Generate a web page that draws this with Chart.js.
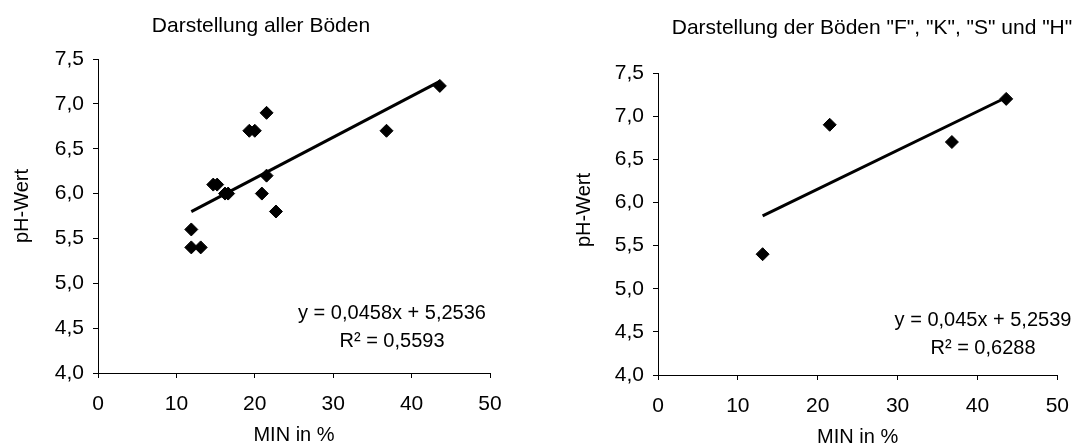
<!DOCTYPE html>
<html lang="de">
<head>
<meta charset="utf-8">
<title>pH-Wert und MIN</title>
<script src="https://cdn.jsdelivr.net/npm/chart.js@4.4.1/dist/chart.umd.min.js"></script>
<style>
  html, body { margin: 0; padding: 0; background: #fff; }
  #wrap { position: relative; width: 1083px; height: 444px; }
  canvas { position: absolute; top: 0; }
  #allChart { left: 0; }
  #fkshChart { left: 540px; }
</style>
</head>
<body>
<div id="wrap">
  <canvas id="allChart" width="540" height="444"></canvas>
  <canvas id="fkshChart" width="543" height="444"></canvas>
</div>
<script>
// MIN (%) und pH-Wert aller Böden
const minAll = [43.6, 36.8, 21.5, 19.3, 20.0, 21.5, 20.9, 22.7, 14.7, 15.2, 16.2, 16.6, 11.9, 11.9, 13.1];
const phAll  = [7.2, 6.7, 6.9, 6.7, 6.7, 6.2, 6.0, 5.8, 6.1, 6.1, 6.0, 6.0, 5.6, 5.4, 5.4];

// nur die Böden F, K, S und H
const minFKSH = [13.1, 21.5, 36.8, 43.6];
const phFKSH  = [5.4, 6.9, 6.7, 7.2];

// lineare Trendlinien: Steigung, Achsenabschnitt, Bestimmtheitsmaß
const trendAll  = [0.0458, 5.2536, 0.5593];
const trendFKSH = [0.045, 5.2539, 0.6288];

const xTicks = [0, 10, 20, 30, 40, 50];
const yTicks = [4.0, 4.5, 5.0, 5.5, 6.0, 6.5, 7.0, 7.5];

Chart.defaults.font.family = '"Liberation Sans", Arial, sans-serif';
Chart.defaults.font.size = 21;
Chart.defaults.color = '#000';

const deNum = v => String(v).replace('.', ',');

// Titel, Achsentitel und Gleichung der Trendlinie
const textPlugin = {
    id: 'texts',
    afterDraw(chart, args, o) {
        const ctx = chart.ctx;
        const area = chart.chartArea;
        ctx.save();
        ctx.fillStyle = '#000';
        ctx.textAlign = 'center';

        ctx.font = '21px "Liberation Sans", Arial, sans-serif';
        ctx.textBaseline = 'alphabetic';
        ctx.fillText(o.title, o.titleX, o.titleY);

        ctx.font = '20px "Liberation Sans", Arial, sans-serif';
        ctx.textBaseline = 'middle';
        ctx.fillText('MIN in %', (area.left + area.right) / 2, o.xTitleY);

        ctx.save();
        ctx.translate(o.yTitleX, o.yTitleY);
        ctx.rotate(-Math.PI / 2);
        ctx.fillText('pH-Wert', 0, 0);
        ctx.restore();

        const t = o.trend;
        ctx.fillText('y = ' + deNum(t[0]) + 'x + ' + deNum(t[1]), o.eqX, o.eqY);
        ctx.fillText('R² = ' + deNum(t[2]), o.eqX, o.eqY + 28);
        ctx.restore();
    }
};

function makeChart(id, xs, ys, trend, cfg) {
    const points = xs.map((x, i) => ({ x: x, y: ys[i] }));
    const x0 = Math.min(...xs);
    const x1 = Math.max(...xs);
    const line = [x0, x1].map(x => ({ x: x, y: trend[0] * x + trend[1] }));

    return new Chart(document.getElementById(id), {
        type: 'scatter',
        data: {
            datasets: [{
                data: points,
                pointStyle: 'rectRot',
                pointRadius: 6.5,
                backgroundColor: '#000',
                borderColor: '#000',
                borderWidth: 1
            }, {
                data: line,
                showLine: true,
                borderColor: '#000',
                borderWidth: 3,
                pointRadius: 0
            }]
        },
        options: {
            responsive: false,
            animation: false,
            layout: { padding: { top: cfg.top, right: cfg.right, left: 0, bottom: 0 } },
            plugins: {
                legend: { display: false },
                tooltip: { enabled: false },
                texts: cfg.texts
            },
            scales: {
                x: {
                    type: 'linear',
                    min: 0,
                    max: 50,
                    afterBuildTicks: s => { s.ticks = xTicks.map(v => ({ value: v })); },
                    afterFit: s => { s.height = cfg.xHeight; },
                    ticks: { autoSkip: false, padding: 14, maxRotation: 0 },
                    grid: { drawOnChartArea: false, tickLength: 5, color: '#000' },
                    border: { color: '#000', width: 1 }
                },
                y: {
                    min: 4,
                    max: 7.5,
                    afterBuildTicks: s => { s.ticks = yTicks.map(v => ({ value: v })); },
                    afterFit: s => { s.width = cfg.yWidth; },
                    ticks: {
                        autoSkip: false,
                        padding: 9,
                        callback: v => v.toFixed(1).replace('.', ',')
                    },
                    grid: { drawOnChartArea: false, tickLength: 5, color: '#000' },
                    border: { color: '#000', width: 1 }
                }
            }
        },
        plugins: [textPlugin]
    });
}

makeChart('allChart', minAll, phAll, trendAll, {
    top: 59, right: 50, yWidth: 98, xHeight: 71,
    texts: {
        title: 'Darstellung aller Böden', titleX: 261, titleY: 32,
        xTitleY: 435, yTitleX: 22, yTitleY: 206,
        trend: trendAll, eqX: 392, eqY: 313
    }
});

makeChart('fkshChart', minFKSH, phFKSH, trendFKSH, {
    top: 73, right: 14, yWidth: 118, xHeight: 69,
    texts: {
        title: 'Darstellung der Böden "F", "K", "S" und "H"', titleX: 332, titleY: 34,
        xTitleY: 437, yTitleX: 44, yTitleY: 210,
        trend: trendFKSH, eqX: 443, eqY: 320
    }
});
</script>
</body>
</html>
